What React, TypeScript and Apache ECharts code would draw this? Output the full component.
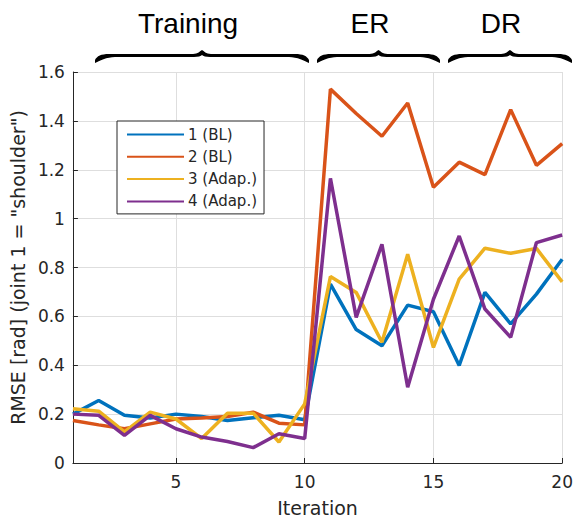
import React, { useEffect, useRef } from "react";
import * as echarts from "echarts";

const iterations = [1, 2, 3, 4, 5, 6, 7, 8, 9, 10, 11, 12, 13, 14, 15, 16, 17, 18, 19, 20];
const seriesNames = ["1 (BL)", "2 (BL)", "3 (Adap.)", "4 (Adap.)"];
const joint1 = [0.2, 0.256, 0.195, 0.184, 0.2, 0.19, 0.174, 0.185, 0.195, 0.177, 0.732, 0.546, 0.48, 0.646, 0.619, 0.399, 0.698, 0.569, 0.691, 0.834];
const joint2 = [0.174, 0.156, 0.14, 0.16, 0.18, 0.184, 0.19, 0.208, 0.163, 0.156, 1.53, 1.43, 1.337, 1.473, 1.128, 1.231, 1.18, 1.446, 1.218, 1.307];
const joint3 = [0.222, 0.212, 0.127, 0.208, 0.18, 0.1, 0.204, 0.204, 0.086, 0.242, 0.763, 0.698, 0.494, 0.854, 0.473, 0.752, 0.879, 0.858, 0.878, 0.741];
const joint4 = [0.2, 0.195, 0.113, 0.195, 0.14, 0.106, 0.088, 0.063, 0.12, 0.1, 1.165, 0.596, 0.895, 0.31, 0.67, 0.929, 0.63, 0.514, 0.902, 0.933];
const xTicks = [5, 10, 15, 20];
const phaseLabels = ["Training", "ER", "DR"];

const colors = ["#0072BD", "#D95319", "#EDB120", "#7E2F8E"];

function braceD(W: number): string {
  const m = W / 2;
  return [
    `M0,10 C2,6 6,4 14,4`,
    `L${m - 9},4 C${m - 4},4 ${m - 2},1 ${m},0 C${m + 2},1 ${m + 4},4 ${m + 9},4`,
    `L${W - 14},4 C${W - 6},4 ${W - 2},6 ${W},10`,
    `L${W},13 C${W - 4},11 ${W - 12},7 ${W - 20},7`,
    `L${m + 8},7 C${m + 4},7 ${m + 1},6 ${m},5 C${m - 1},6 ${m - 4},7 ${m - 8},7`,
    `L20,7 C12,7 4,11 0,13 Z`,
  ].join(" ");
}

const braceSpecs = [
  { name: "braceTraining", x: 95, w: 214, label: 0, cx: 188 },
  { name: "braceER", x: 317, w: 123, label: 1, cx: 370 },
  { name: "braceDR", x: 448, w: 124, label: 2, cx: 501 },
];

let registered = false;
function registerBraces() {
  if (registered) return;
  registered = true;
  for (const b of braceSpecs) {
    echarts.graphic.registerShape(b.name, echarts.graphic.extendPath(braceD(b.w), {}) as any);
  }
}

export default function App() {
  const ref = useRef<HTMLDivElement>(null);
  useEffect(() => {
    if (!ref.current) return;
    registerBraces();
    const chart = echarts.init(ref.current, null, { renderer: "svg" });
    const allData = [joint1, joint2, joint3, joint4];
    const textColor = "#262626";
    const graphic: any[] = [];
    for (const b of braceSpecs) {
      graphic.push({
        type: b.name,
        x: b.x,
        y: 50,
        style: { fill: "#000" },
      });
      graphic.push({
        type: "text",
        x: b.cx,
        y: 23,
        style: {
          text: phaseLabels[b.label],
          fill: "#000",
          font: '28px "Liberation Sans", Arial, sans-serif',
          textAlign: "center",
          textVerticalAlign: "middle",
        },
      });
    }
    chart.setOption({
      animation: false,
      backgroundColor: "#fff",
      grid: { left: 72, right: 10, top: 72, bottom: 58, containLabel: false },
      legend: {
        orient: "vertical",
        left: 117,
        top: 121,
        data: seriesNames,
        padding: [6, 7, 5, 9],
        itemWidth: 57,
        itemHeight: 14,
        itemGap: 7.3,
        itemStyle: { opacity: 0 },
        textStyle: { fontFamily: "DejaVu Sans", fontSize: 15, color: textColor, padding: [0, 0, 0, -1] },
        borderColor: "#262626",
        borderWidth: 1,
        backgroundColor: "#fff",
        borderRadius: 0,
      },
      xAxis: {
        type: "value",
        min: 1,
        max: 20,
        name: "Iteration",
        nameLocation: "middle",
        nameGap: 35,
        nameTextStyle: { fontFamily: "DejaVu Sans", fontSize: 19, color: textColor },
        axisLine: { show: true, lineStyle: { color: textColor, width: 1 } },
        axisTick: { show: true, inside: true, length: 5, customValues: xTicks, lineStyle: { color: textColor } },
        axisLabel: { customValues: xTicks, margin: 10, fontFamily: "DejaVu Sans", fontSize: 17, color: textColor },
        splitLine: { show: true, lineStyle: { color: "#dedede", width: 1 } },
      },
      yAxis: {
        type: "value",
        min: 0,
        max: 1.6,
        interval: 0.2,
        name: 'RMSE [rad] (joint 1 = "shoulder")',
        nameLocation: "middle",
        nameGap: 44,
        nameTextStyle: { fontFamily: "DejaVu Sans", fontSize: 19, color: textColor },
        axisLine: { show: true, lineStyle: { color: textColor, width: 1 } },
        axisTick: { show: true, inside: true, length: 5, lineStyle: { color: textColor } },
        axisLabel: { margin: 8, fontFamily: "DejaVu Sans", fontSize: 17, color: textColor },
        splitLine: { show: true, lineStyle: { color: "#dedede", width: 1 } },
      },
      series: allData.map((arr, i) => ({
        name: seriesNames[i],
        type: "line",
        data: iterations.map((x, k) => [x, arr[k]]),
        symbol: "none",
        lineStyle: { color: colors[i], width: 3.5 },
        itemStyle: { color: colors[i] },
        color: colors[i],
      })),
      graphic,
    });
    return () => chart.dispose();
  }, []);
  return (
    <div
      ref={ref}
      style={{ position: "absolute", left: 0, top: 0, width: 576, height: 522 }}
    />
  );
}
